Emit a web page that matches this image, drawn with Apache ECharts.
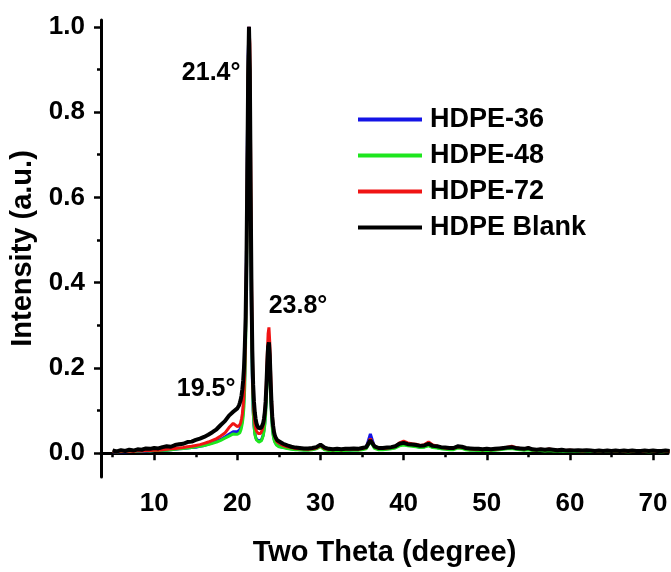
<!DOCTYPE html>
<html>
<head>
<meta charset="utf-8">
<script src="https://cdn.jsdelivr.net/npm/echarts@6.0.0/dist/echarts.min.js"></script>
<style>
  html, body { margin: 0; padding: 0; background: #fff; }
  #chart { width: 671px; height: 572px; }
</style>
</head>
<body>
<div id="chart"></div>
<script>
// two theta (degree)
const twoTheta = [
  5, 5.5, 6, 6.5, 7, 7.5, 8, 8.5, 9, 9.5,
  10, 10.5, 11, 11.5, 12, 12.5, 13, 13.5, 14, 14.5,
  15, 15.5, 16, 16.5, 17, 17.5, 18, 18.5, 19, 19.5,
  20.0, 20.1, 20.2, 20.3, 20.4, 20.5, 20.6, 20.7, 20.8, 20.9,
  21.0, 21.1, 21.2, 21.3, 21.4, 21.5, 21.6, 21.7, 21.8, 21.9,
  22.0, 22.1, 22.2, 22.3, 22.4, 22.5, 22.6, 22.7, 22.8, 22.9,
  23.0, 23.1, 23.2, 23.3, 23.4, 23.5, 23.6, 23.7, 23.8, 23.9,
  24.0, 24.1, 24.2, 24.3, 24.4, 24.5, 24.6, 24.7, 24.8, 24.9,
  25.0,
  25.5, 26, 26.5, 27, 27.5, 28, 28.5, 29, 29.5, 30,
  30.5, 31, 31.5, 32, 32.5, 33, 33.5, 34, 34.5, 35,
  35.5, 36, 36.5, 37, 37.5, 38, 38.5, 39, 39.5, 40,
  40.5, 41, 41.5, 42, 42.5, 43, 43.5, 44, 44.5, 45,
  45.5, 46, 46.5, 47, 47.5, 48, 48.5, 49, 49.5, 50,
  50.5, 51, 51.5, 52, 52.5, 53, 53.5, 54, 54.5, 55,
  55.5, 56, 56.5, 57, 57.5, 58, 58.5, 59, 59.5, 60,
  60.5, 61, 61.5, 62, 62.5, 63, 63.5, 64, 64.5, 65,
  65.5, 66, 66.5, 67, 67.5, 68, 68.5, 69, 69.5, 70,
  70.5, 71, 71.5, 72
];

const hdpe36 = [
  .003, .003, .004, .003, .004, .004, .005, .004, .005, .005,
  .006, .006, .006, .007, .008, .009, .010, .011, .012, .013,
  .014, .016, .018, .021, .024, .028, .032, .038, .044, .050,
  .050, .049, .051, .055, .060, .068, .080, .100, .130, .190,
  .300, .480, .720, .930, 1.00, .860, .560, .320, .180, .100,
  .066, .048, .038, .033, .030, .029, .028, .028, .029, .031,
  .035, .042, .054, .070, .100, .150, .200, .240, .250, .210,
  .150, .100, .066, .046, .035, .028, .024, .021, .019, .017,
  .016,
  .014, .012, .010, .009, .008, .008, .008, .009, .011, .018,
  .009, .007, .007, .007, .006, .007, .007, .008, .008, .010,
  .013, .045, .014, .009, .009, .010, .011, .013, .019, .021,
  .019, .018, .016, .014, .015, .019, .014, .013, .011, .010,
  .009, .010, .016, .014, .010, .008, .008, .007, .007, .007,
  .007, .008, .009, .010, .012, .013, .010, .009, .008, .010,
  .007, .006, .007, .006, .007, .006, .006, .006, .005, .006,
  .005, .006, .005, .006, .005, .005, .005, .004, .005, .005,
  .005, .004, .005, .004, .005, .004, .005, .004, .004, .005,
  .004, .004, .005, .004
];

const hdpe48 = [
  .004, .003, .004, .004, .005, .004, .005, .005, .006, .005,
  .006, .006, .007, .007, .008, .009, .010, .011, .012, .013,
  .015, .016, .018, .020, .023, .026, .030, .035, .040, .045,
  .044, .043, .045, .048, .053, .060, .070, .085, .110, .160,
  .260, .420, .660, .900, .990, .880, .600, .340, .190, .100,
  .065, .045, .036, .031, .028, .027, .026, .026, .027, .029,
  .033, .040, .050, .065, .090, .130, .180, .220, .230, .200,
  .140, .090, .060, .042, .032, .026, .022, .019, .017, .016,
  .015,
  .013, .011, .009, .008, .008, .007, .007, .008, .010, .015,
  .008, .006, .006, .006, .006, .006, .007, .007, .007, .008,
  .010, .028, .011, .008, .008, .009, .010, .012, .017, .019,
  .017, .016, .015, .013, .014, .017, .013, .012, .010, .009,
  .008, .008, .012, .011, .008, .007, .007, .006, .006, .006,
  .006, .007, .008, .009, .010, .011, .009, .008, .007, .008,
  .006, .006, .006, .005, .006, .005, .005, .005, .004, .005,
  .004, .005, .004, .005, .004, .004, .004, .004, .005, .004,
  .004, .004, .004, .003, .004, .004, .004, .004, .003, .004,
  .004, .003, .004, .004
];

const hdpe72 = [
  .004, .003, .005, .004, .005, .004, .006, .005, .006, .006,
  .007, .007, .008, .009, .010, .011, .012, .013, .015, .016,
  .018, .020, .023, .026, .030, .034, .040, .047, .060, .070,
  .062, .060, .062, .066, .072, .080, .092, .110, .140, .200,
  .300, .450, .680, .900, 1.00, .960, .700, .420, .240, .140,
  .095, .070, .058, .052, .048, .046, .045, .045, .046, .050,
  .055, .062, .074, .090, .120, .170, .230, .280, .295, .260,
  .190, .130, .090, .065, .050, .040, .034, .030, .026, .024,
  .022,
  .018, .015, .013, .011, .010, .010, .009, .010, .012, .018,
  .011, .009, .008, .009, .008, .009, .009, .010, .009, .011,
  .013, .034, .015, .011, .011, .012, .013, .016, .024, .028,
  .024, .022, .021, .018, .020, .026, .019, .017, .014, .012,
  .011, .011, .015, .014, .011, .010, .009, .009, .008, .009,
  .008, .009, .010, .012, .014, .016, .013, .011, .010, .012,
  .008, .008, .009, .008, .010, .008, .007, .007, .006, .007,
  .006, .006, .005, .006, .006, .005, .005, .005, .006, .005,
  .005, .005, .005, .004, .005, .005, .004, .005, .005, .005,
  .004, .005, .005, .004
];

const hdpeBlank = [
  .006, .004, .007, .005, .008, .006, .009, .008, .011, .010,
  .012, .011, .014, .016, .015, .019, .021, .022, .026, .027,
  .031, .034, .038, .043, .049, .056, .066, .075, .088, .097,
  .105, .108, .112, .118, .125, .135, .150, .170, .200, .250,
  .320, .450, .650, .880, 1.00, .900, .620, .380, .240, .160,
  .120, .095, .080, .070, .064, .060, .058, .057, .058, .060,
  .064, .070, .080, .095, .120, .160, .210, .250, .260, .230,
  .170, .120, .085, .065, .050, .042, .037, .033, .030, .028,
  .026,
  .022, .018, .015, .013, .012, .011, .011, .012, .014, .020,
  .013, .010, .009, .010, .009, .010, .010, .011, .010, .012,
  .014, .030, .016, .012, .012, .013, .014, .016, .022, .024,
  .021, .020, .019, .017, .018, .022, .017, .016, .014, .013,
  .012, .012, .016, .015, .012, .011, .010, .010, .009, .010,
  .009, .010, .011, .012, .013, .014, .012, .011, .010, .012,
  .009, .008, .009, .008, .009, .008, .007, .008, .006, .007,
  .006, .007, .006, .007, .006, .005, .006, .005, .006, .005,
  .006, .005, .006, .005, .006, .005, .005, .006, .005, .006,
  .005, .005, .006, .005
];

const seriesNames = ['HDPE-36', 'HDPE-48', 'HDPE-72', 'HDPE Blank'];
const seriesColors = ['#1414e6', '#1ee61e', '#f01414', '#000000'];

const xMajorTicks = [10, 20, 30, 40, 50, 60, 70];
const xMinorTicks = [5, 15, 25, 35, 45, 55, 65];
const yMajorTicks = [0, 0.2, 0.4, 0.6, 0.8, 1.0];
const yMinorTicks = [0.1, 0.3, 0.5, 0.7, 0.9];

const peakLabels = ['21.4°', '23.8°', '19.5°'];
const peakLabelAt = [[16.85, 0.892], [27.3, 0.344], [16.25, 0.15]];

const chart = echarts.init(document.getElementById('chart'));
const font = "'Liberation Sans', Arial, sans-serif";

function pairs(ys) {
  return twoTheta.map((x, i) => [x, ys[i]]);
}

const values = [hdpe36, hdpe48, hdpe72, hdpeBlank];
const widths = [3, 3, 3, 4];

const series = values.map((ys, i) => ({
  name: seriesNames[i],
  type: 'line',
  data: pairs(ys),
  xAxisIndex: 0,
  yAxisIndex: 0,
  symbol: 'none',
  clip: true,
  z: 2 + i,
  lineStyle: { color: seriesColors[i], width: widths[i] },
  itemStyle: { color: seriesColors[i] }
}));

series[3].markPoint = {
  symbol: 'circle',
  symbolSize: 0,
  silent: true,
  label: {
    show: true,
    position: 'inside',
    formatter: '{b}',
    color: '#000',
    fontFamily: font,
    fontWeight: 'bold',
    fontSize: 25
  },
  data: peakLabels.map((t, i) => ({ name: t, coord: peakLabelAt[i] }))
};

const axisLine = { show: true, lineStyle: { color: '#000', width: 3 } };

const option = {
  animation: false,
  backgroundColor: '#fff',
  grid: { left: 101, right: 3, top: 20, bottom: 94 },
  legend: {
    orient: 'vertical',
    left: 358,
    top: 106,
    padding: 0,
    icon: 'rect',
    itemWidth: 64,
    itemHeight: 4,
    itemGap: 9,
    data: seriesNames,
    textStyle: {
      color: '#000',
      fontFamily: font,
      fontWeight: 'bold',
      fontSize: 27,
      lineHeight: 26,
      padding: [0, 0, 0, 3]
    }
  },
  xAxis: [
    {
      type: 'value',
      min: 3.6,
      max: 71.8,
      position: 'bottom',
      name: 'Two Theta (degree)',
      nameLocation: 'middle',
      nameGap: 61,
      nameTextStyle: { color: '#000', fontFamily: font, fontWeight: 'bold', fontSize: 29 },
      axisLine: axisLine,
      axisTick: { show: true, length: 7, customValues: xMajorTicks, lineStyle: { color: '#000', width: 2.5 } },
      axisLabel: {
        customValues: xMajorTicks,
        margin: 14,
        color: '#000',
        fontFamily: font,
        fontWeight: 'bold',
        fontSize: 26
      },
      splitLine: { show: false }
    },
    {
      type: 'value',
      min: 3.6,
      max: 71.8,
      position: 'bottom',
      axisLine: { show: false },
      axisTick: { show: true, length: 4, customValues: xMinorTicks, lineStyle: { color: '#000', width: 2.5 } },
      axisLabel: { show: false },
      splitLine: { show: false }
    }
  ],
  yAxis: [
    {
      type: 'value',
      min: -0.056,
      max: 1.016,
      position: 'left',
      name: 'Intensity (a.u.)',
      nameLocation: 'middle',
      nameGap: 64,
      nameTextStyle: { color: '#000', fontFamily: font, fontWeight: 'bold', fontSize: 29 },
      axisLine: axisLine,
      axisTick: { show: true, length: 7, customValues: yMajorTicks, lineStyle: { color: '#000', width: 2.5 } },
      axisLabel: {
        customValues: yMajorTicks,
        margin: 16,
        color: '#000',
        fontFamily: font,
        fontWeight: 'bold',
        fontSize: 26,
        formatter: v => v.toFixed(1)
      },
      splitLine: { show: false }
    },
    {
      type: 'value',
      min: -0.056,
      max: 1.016,
      position: 'left',
      axisLine: { show: false },
      axisTick: { show: true, length: 4, customValues: yMinorTicks, lineStyle: { color: '#000', width: 2.5 } },
      axisLabel: { show: false },
      splitLine: { show: false }
    }
  ],
  series: series
};

chart.setOption(option);
</script>
</body>
</html>
